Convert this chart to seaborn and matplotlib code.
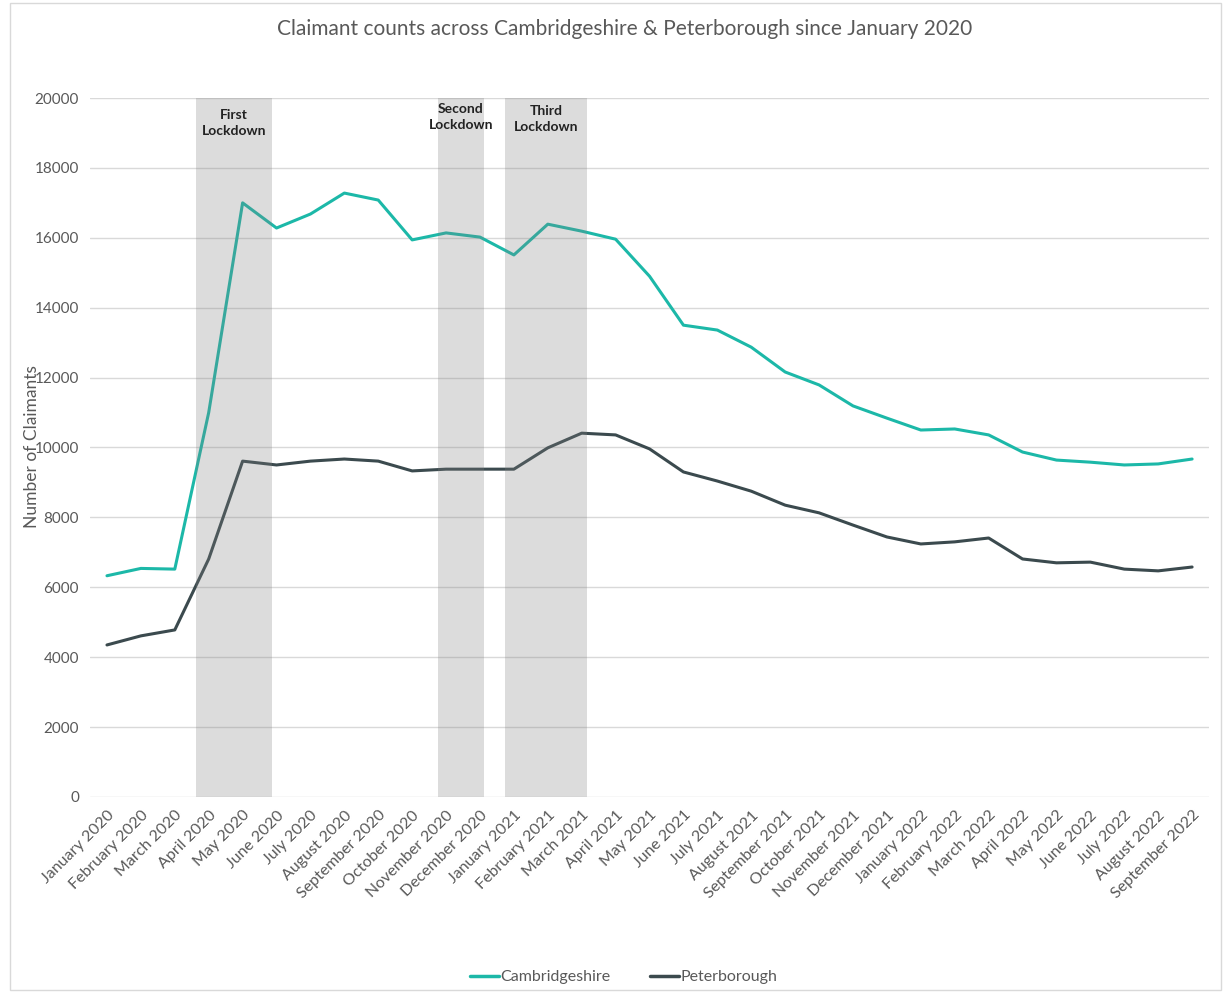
import matplotlib.pyplot as plt
import matplotlib.patches as mpatches
import pandas as pd
import seaborn as sns

months = ['January 2020', 'February 2020', 'March 2020', 'April 2020', 'May 2020', 'June 2020',
          'July 2020', 'August 2020', 'September 2020', 'October 2020', 'November 2020',
          'December 2020', 'January 2021', 'February 2021', 'March 2021', 'April 2021',
          'May 2021', 'June 2021', 'July 2021', 'August 2021', 'September 2021',
          'October 2021', 'November 2021', 'December 2021', 'January 2022', 'February 2022',
          'March 2022', 'April 2022', 'May 2022', 'June 2022', 'July 2022', 'August 2022',
          'September 2022']

cambridgeshire = [6330, 6540, 6520, 11000, 17000, 16280, 16680, 17280, 17080, 15940, 16140,
                  16020, 15510, 16390, 16190, 15960, 14900, 13500, 13360, 12870, 12160,
                  11790, 11190, 10840, 10500, 10530, 10360, 9870, 9640, 9580, 9500, 9530, 9670]

peterborough = [4350, 4610, 4780, 6810, 9610, 9500, 9610, 9670, 9610, 9330, 9380, 9380, 9380,
                9990, 10410, 10360, 9960, 9300, 9040, 8750, 8350, 8130, 7780, 7440, 7240,
                7300, 7410, 6810, 6700, 6720, 6520, 6470, 6580]

# lockdown periods, in month positions on the category axis
lockdown_names = ['First\nLockdown', 'Second\nLockdown', 'Third\nLockdown']
lockdown_start = [2.63, 9.76, 11.74]
lockdown_end = [4.87, 11.12, 14.16]
label_y = [0.964, 0.973, 0.970]

df = pd.DataFrame({'pos': range(len(months)),
                   'Cambridgeshire': cambridgeshire,
                   'Peterborough': peterborough})
long_df = df.melt(id_vars='pos', var_name='area', value_name='claimants')

sns.set_style('white')
plt.rcParams['font.family'] = ['Lato', 'DejaVu Sans']

fig = plt.figure(figsize=(12.23, 9.93), dpi=100)
ax = fig.add_axes([0.0736, 0.1974, 0.915, 0.7039])

sns.lineplot(data=long_df, x='pos', y='claimants', hue='area',
             palette={'Cambridgeshire': '#1cb8a8', 'Peterborough': '#3b4a4e'},
             linewidth=2.2, ax=ax, legend=False, zorder=3)

for name, s, e, ly in zip(lockdown_names, lockdown_start, lockdown_end, label_y):
    ax.axvspan(s, e, color='#808080', alpha=0.27, lw=0, zorder=4)
    ax.text((s + e) / 2, ly, name, transform=ax.get_xaxis_transform(), ha='center', va='center',
            fontsize=10, fontweight='bold', color='#222222', linespacing=1.45, zorder=5)

ax.set_xlim(-0.5, len(months) - 0.5)
ax.set_ylim(0, 20000)
ax.set_yticks(range(0, 20001, 2000))
ax.set_yticklabels([str(v) for v in range(0, 20001, 2000)], fontsize=11, color='#595959')
ax.set_xticks(range(len(months)))
ax.set_xticklabels(months, rotation=45, ha='right', rotation_mode='anchor', fontsize=11.5,
                   color='#595959')
ax.tick_params(axis='both', length=0, pad=8)
ax.yaxis.grid(True, color='#d9d9d9', linewidth=1)
ax.set_axisbelow(True)
for sp in ax.spines.values():
    sp.set_visible(False)

ax.set_xlabel('')
ax.set_ylabel('')
fig.text(0.026, 0.55, 'Number of Claimants', rotation=90, ha='center', va='center',
         fontsize=12.5, color='#595959')
fig.text(0.511, 0.971, 'Claimant counts across Cambridgeshire & Peterborough since January 2020',
         ha='center', va='center', fontsize=15, color='#595959')

handles = [plt.Line2D([], [], color='#1cb8a8', lw=2.5),
           plt.Line2D([], [], color='#3b4a4e', lw=2.5)]
fig.legend(handles, ['Cambridgeshire', 'Peterborough'], loc='center', bbox_to_anchor=(0.51, 0.016),
           ncol=2, frameon=False, fontsize=11.5, handlelength=1.8, handletextpad=0.1,
           columnspacing=2.5, labelcolor='#595959')

fig.add_artist(mpatches.Rectangle((0.008, 0.003), 0.99, 0.994, transform=fig.transFigure,
                                  fill=False, edgecolor='#d9d9d9', lw=1))

fig.savefig('out.png', dpi=100)
